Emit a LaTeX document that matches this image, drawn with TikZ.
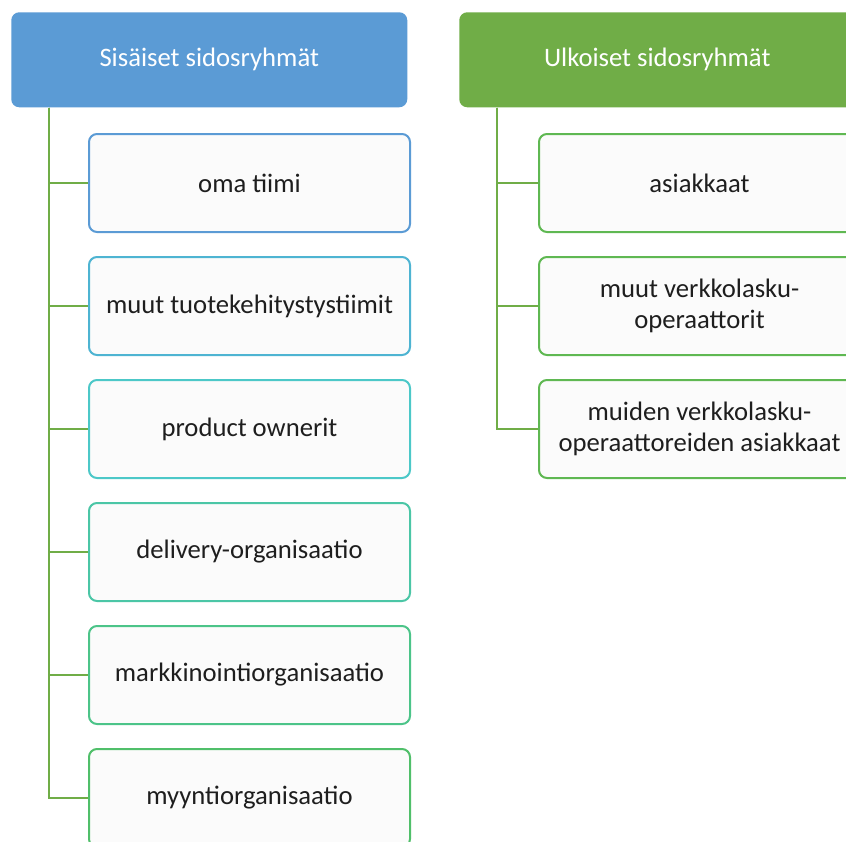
\documentclass[tikz,border=0pt]{standalone}
\usepackage{fontspec}
\setmainfont{Carlito}
\usetikzlibrary{calc}
\definecolor{hdrblue}{HTML}{5B9BD5}
\definecolor{hdrgreen}{HTML}{70AD47}
\definecolor{cA}{HTML}{5B9BD5}
\definecolor{cB}{HTML}{4EB4D2}
\definecolor{cC}{HTML}{4CC8C8}
\definecolor{cD}{HTML}{4BC6A6}
\definecolor{cE}{HTML}{4CC489}
\definecolor{cF}{HTML}{50BF6A}
\definecolor{cG}{HTML}{5FB852}
\definecolor{boxfill}{HTML}{FBFBFB}
\definecolor{txt}{HTML}{1E1E1E}
\tikzset{
  header/.style={fill=#1, draw=none, rounded corners=6pt, minimum width=297pt,
    minimum height=71.25pt, anchor=north west, text=white, inner sep=0pt,
    font=\fontsize{20}{23}\selectfont},
  child/.style={draw=#1, fill=boxfill, line width=1.5pt, rounded corners=6pt,
    minimum width=240.75pt, minimum height=73.5pt, anchor=north west,
    text=txt, inner sep=0pt, align=center, font=\fontsize{20}{23}\selectfont},
  conn/.style={draw=hdrgreen, line width=1.6pt}
}
\begin{document}
\begin{tikzpicture}[x=0.75pt, y=-0.75pt]
\useasboundingbox (0,0) rectangle (846,842);
\clip (0,0) rectangle (846,842);
\fill[white] (0,0) rectangle (846,842);
% headers
\node[header=hdrblue] (hL) at (11,12) {Sisäiset sidosryhmät};
\node[header=hdrgreen] (hR) at (459,12) {Ulkoiset sidosryhmät};
% internal groups
\node[child=cA] (l1) at (88,133) {oma tiimi};
\node[child=cB] (l2) at (88,256) {muut tuotekehitystystiimit};
\node[child=cC] (l3) at (88,379) {product ownerit};
\node[child=cD] (l4) at (88,502) {delivery-organisaatio};
\node[child=cE] (l5) at (88,625) {markkinointiorganisaatio};
\node[child=cF] (l6) at (88,748) {myyntiorganisaatio};
% external groups
\node[child=cG] (r1) at (538,133) {asiakkaat};
\node[child=cG] (r2) at (538,256) {muut verkkolasku-\\operaattorit};
\node[child=cG] (r3) at (538,379) {muiden verkkolasku-\\operaattoreiden asiakkaat};
% connectors
\coordinate (tL) at ($(hL.south west)+(38,0)$);
\coordinate (tR) at ($(hR.south west)+(38,0)$);
\foreach \c in {l1,l2,l3,l4,l5,l6} \draw[conn] (tL) |- (\c.west);
\foreach \c in {r1,r2,r3} \draw[conn] (tR) |- (\c.west);
\end{tikzpicture}
\end{document}
